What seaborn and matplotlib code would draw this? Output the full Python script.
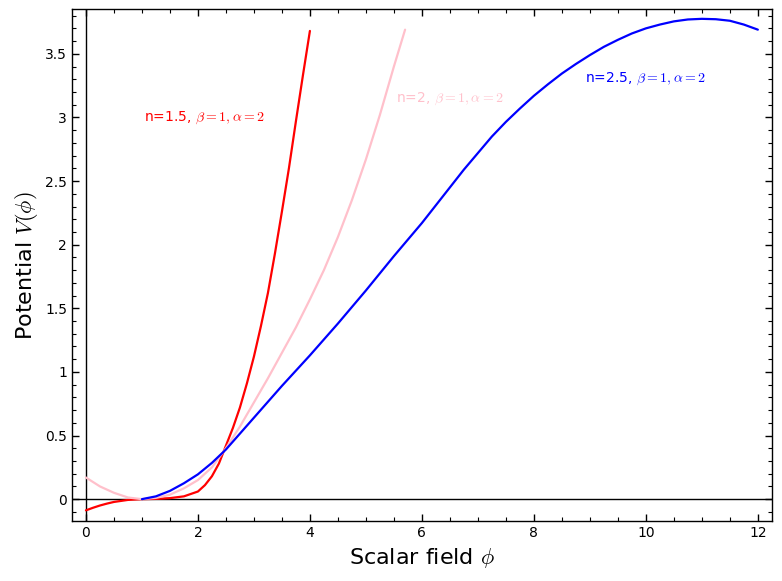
import pandas as pd
import matplotlib
matplotlib.use("Agg")
import matplotlib.pyplot as plt
import seaborn as sns
from matplotlib.ticker import MultipleLocator, FuncFormatter

sns.set_theme(style="ticks")
plt.rcParams["font.family"] = ["DejaVu Sans"]
plt.rcParams["mathtext.fontset"] = "cm"

# valores
phi_n15 = [0.0, 0.125, 0.25, 0.375, 0.5, 0.75, 1.0, 1.25, 1.5, 1.75, 2.0, 2.125, 2.25, 2.375, 2.5,
           2.625, 2.75, 2.875, 3.0, 3.125, 3.25, 3.375, 3.5, 3.625, 3.75, 3.875, 4.0]
V_n15 = [-0.088, -0.068, -0.05, -0.035, -0.022, -0.006, 0.0, 0.002, 0.008, 0.022, 0.06, 0.11, 0.18, 0.28, 0.42,
         0.56, 0.72, 0.91, 1.12, 1.36, 1.62, 1.93, 2.26, 2.60, 2.97, 3.33, 3.68]

phi_n2 = [0.0, 0.25, 0.5, 0.75, 1.0, 1.25, 1.5, 1.75, 2.0, 2.25, 2.5, 2.75, 3.0, 3.25, 3.5,
          3.75, 4.0, 4.25, 4.5, 4.75, 5.0, 5.25, 5.5, 5.7]
V_n2 = [0.17, 0.10, 0.05, 0.013, 0.0, 0.01, 0.035, 0.085, 0.15, 0.25, 0.40, 0.57, 0.76, 0.95, 1.15,
        1.35, 1.57, 1.80, 2.06, 2.35, 2.67, 3.02, 3.40, 3.69]

phi_n25 = [1.0, 1.25, 1.5, 1.75, 2.0, 2.25, 2.5, 3.0, 3.5, 4.0, 4.5, 5.0, 5.5, 6.0, 6.25, 6.5, 6.75,
           7.0, 7.25, 7.5, 7.75, 8.0, 8.25, 8.5, 8.75, 9.0, 9.25, 9.5, 9.75, 10.0, 10.25, 10.5,
           10.75, 11.0, 11.25, 11.5, 11.75, 12.0]
V_n25 = [0.0, 0.022, 0.065, 0.125, 0.195, 0.285, 0.39, 0.64, 0.89, 1.13, 1.38, 1.64, 1.91, 2.17, 2.31, 2.45, 2.59,
         2.72, 2.85, 2.965, 3.07, 3.17, 3.26, 3.345, 3.42, 3.49, 3.555, 3.61, 3.66, 3.70, 3.73, 3.755,
         3.77, 3.775, 3.772, 3.76, 3.73, 3.69]

curvas = [
    (phi_n15, V_n15, "red", r"n=1.5, $\beta=1,\alpha=2$", (2.125, 3.0)),
    (phi_n2, V_n2, "pink", r"n=2, $\beta=1,\alpha=2$", (6.5, 3.15)),
    (phi_n25, V_n25, "blue", r"n=2.5, $\beta=1,\alpha=2$", (10.0, 3.30)),
]

fig = plt.figure(figsize=(7.82, 5.81), dpi=100)
ax = fig.add_axes([0.092, 0.103, 0.895, 0.881])

ax.axhline(0, color="black", lw=1, zorder=1)
ax.axvline(0, color="black", lw=1, zorder=1)

for phi, V, cor, rotulo, pos in curvas:
    df = pd.DataFrame({"phi": phi, "V": V})
    sns.lineplot(data=df, x="phi", y="V", color=cor, lw=1.6, sort=False, ax=ax, zorder=3)
    ax.text(pos[0], pos[1], rotulo, color=cor, ha="center", va="center", fontsize=10)

ax.set_xlim(-0.25, 12.25)
ax.set_ylim(-0.173, 3.85)
ax.xaxis.set_major_locator(MultipleLocator(2))
ax.xaxis.set_minor_locator(MultipleLocator(0.5))
ax.yaxis.set_major_locator(MultipleLocator(0.5))
ax.yaxis.set_minor_locator(MultipleLocator(0.1))
fmt = FuncFormatter(lambda v, p: "%g" % v)
ax.xaxis.set_major_formatter(fmt)
ax.yaxis.set_major_formatter(fmt)
ax.tick_params(which="both", direction="in", top=True, right=True, colors="black", labelsize=10)
ax.tick_params(which="major", length=5, width=1)
ax.tick_params(which="minor", length=3, width=0.8)
for s in ax.spines.values():
    s.set_color("black")
    s.set_linewidth(1)

ax.set_xlabel(r"Scalar field $\phi$", fontsize=16, color="black")
ax.set_ylabel(r"Potential $V(\phi)$", fontsize=16, color="black")

fig.savefig("out.png", dpi=100)
